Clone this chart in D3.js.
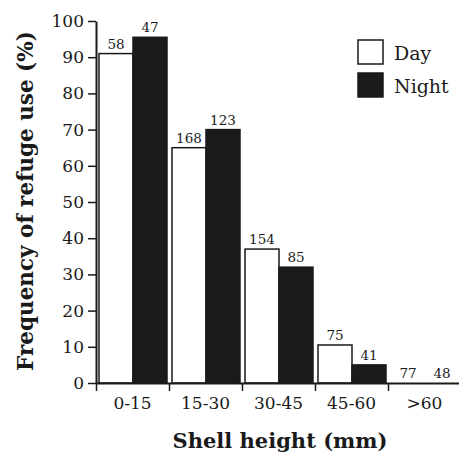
<!DOCTYPE html>
<html>
<head>
<meta charset="utf-8">
<script src="https://cdn.jsdelivr.net/npm/d3@7"></script>
<style>
  body{margin:0;background:#fff;}
  text{font-family:"DejaVu Serif",serif;fill:#1a1a1a;}
</style>
</head>
<body>
<div id="chart"></div>
<script>
//chart data
const categories=[`0-15`,`15-30`,`30-45`,`45-60`,`>60`];
const series=[`Day`,`Night`];
const dayValues=[91,65,37,10.5,0];
const nightValues=[95.5,70,32,5,0];
const dayCounts=[58,168,154,75,77];
const nightCounts=[47,123,85,41,48];
const yTicks=[0,10,20,30,40,50,60,70,80,90,100];

const format={width:459,height:457,left:96,right:461,top:21,bottom:383};
const ink=`#1a1a1a`;
const font=`"DejaVu Serif",serif`;

let svg=d3.select(`#chart`).append(`svg`)
    .attr(`width`,format.width)
    .attr(`height`,format.height);

let y=d3.scaleLinear().domain([0,100]).range([format.bottom,format.top]);
let x0=d3.scaleBand().domain(categories).range([format.left,format.right]);
let x1=d3.scaleBand().domain(series).range([3,x0.bandwidth()-2]);
let xIdx=d3.scaleLinear().domain([0,categories.length]).range([format.left,format.right]);

let rows=categories.map((c,i)=>({
    cat:c,
    bars:[
        {key:`Day`,value:dayValues[i],count:dayCounts[i]},
        {key:`Night`,value:nightValues[i],count:nightCounts[i]}
    ]
}));

//bars
let groups=svg.append(`g`).attr(`class`,`bars`)
    .selectAll(`g`).data(rows).enter().append(`g`)
    .attr(`transform`,d=>`translate(${x0(d.cat)},0)`);

groups.selectAll(`rect`).data(d=>d.bars).enter().append(`rect`)
    .attr(`x`,d=>x1(d.key))
    .attr(`width`,x1.bandwidth())
    .attr(`y`,d=>y(d.value))
    .attr(`height`,d=>y(0)-y(d.value))
    .attr(`fill`,d=>d.key==`Day`?`#fff`:ink)
    .attr(`stroke`,ink)
    .attr(`stroke-width`,1.5);

groups.selectAll(`text`).data(d=>d.bars).enter().append(`text`)
    .attr(`x`,d=>x1(d.key)+x1.bandwidth()/2)
    .attr(`y`,d=>y(d.value)-5)
    .attr(`text-anchor`,`middle`)
    .style(`font-size`,`13.5px`)
    .text(d=>d.count);

//y axis
let yAxis=svg.append(`g`)
    .attr(`transform`,`translate(${format.left},0)`)
    .call(d3.axisLeft(y).tickValues(yTicks).tickSize(8).tickSizeOuter(0).tickPadding(4));
yAxis.select(`.domain`).attr(`stroke`,ink).attr(`stroke-width`,2);
yAxis.selectAll(`.tick line`).attr(`stroke`,ink).attr(`stroke-width`,1.5);
yAxis.selectAll(`.tick text`).style(`font-size`,`17px`).style(`font-family`,font).attr(`fill`,ink);

//x axis: boundary ticks
let xAxis=svg.append(`g`)
    .attr(`transform`,`translate(0,${format.bottom})`)
    .call(d3.axisBottom(xIdx).tickValues(d3.range(categories.length)).tickFormat(``).tickSize(8).tickSizeOuter(0));
xAxis.select(`.domain`).attr(`stroke`,ink).attr(`stroke-width`,2);
xAxis.selectAll(`.tick line`).attr(`stroke`,ink).attr(`stroke-width`,1.5);

//x axis: category labels
let xLabels=svg.append(`g`)
    .attr(`transform`,`translate(0,${format.bottom})`)
    .call(d3.axisBottom(x0).tickSize(0).tickPadding(14));
xLabels.select(`.domain`).remove();
xLabels.selectAll(`.tick text`).style(`font-size`,`17px`).style(`font-family`,font).attr(`fill`,ink);

//axis titles
svg.append(`text`)
    .attr(`x`,280)
    .attr(`y`,448)
    .attr(`text-anchor`,`middle`)
    .style(`font-size`,`21px`)
    .style(`font-weight`,`bold`)
    .text(`Shell height (mm)`);

svg.append(`text`)
    .attr(`transform`,`translate(33,201) rotate(-90)`)
    .attr(`text-anchor`,`middle`)
    .style(`font-size`,`21.5px`)
    .style(`font-weight`,`bold`)
    .text(`Frequency of refuge use (%)`);

//legend
let legend=svg.append(`g`).attr(`transform`,`translate(358,40)`)
    .selectAll(`g`).data(series).enter().append(`g`)
    .attr(`transform`,(d,i)=>`translate(0,${i*33})`);
legend.append(`rect`)
    .attr(`width`,25).attr(`height`,24)
    .attr(`fill`,d=>d==`Day`?`#fff`:ink)
    .attr(`stroke`,ink).attr(`stroke-width`,1.5);
legend.append(`text`)
    .attr(`x`,36).attr(`y`,20)
    .style(`font-size`,`19px`)
    .text(d=>d);
</script>
</body>
</html>
